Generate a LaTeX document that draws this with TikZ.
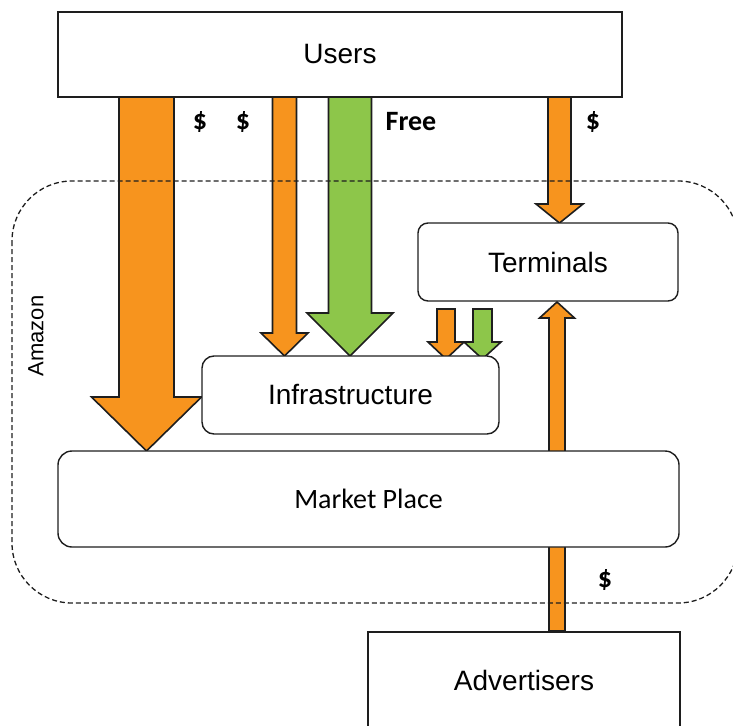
\documentclass[tikz,border=0pt]{standalone}
\usepackage{fontspec}
\setmainfont{Liberation Sans}
\newfontfamily\calib{Carlito}
\definecolor{arrorange}{RGB}{247,148,30}
\definecolor{arrgreen}{RGB}{141,198,74}
\definecolor{ink}{RGB}{30,30,30}
\newcommand\blockarr[7]{% color, x, y start, y tip, shaft half, head half, head length
  \filldraw[fill=#1, draw=ink, line width=1.6pt, line join=miter]
    ({#2-#5},{#3}) -- ({#2-#5},{#4-#7}) -- ({#2-#6},{#4-#7}) -- ({#2},{#4})
    -- ({#2+#6},{#4-#7}) -- ({#2+#5},{#4-#7}) -- ({#2+#5},{#3}) -- cycle;}
\begin{document}
\begin{tikzpicture}[x=1pt,y=-1pt,
  box/.style={draw=ink, fill=white, line width=1.4pt, inner sep=0pt,
    font=\fontsize{28}{33}\selectfont},
  rbox/.style={box, rounded corners=12pt},
  lbl/.style={font=\calib\bfseries\fontsize{28}{33}\selectfont, inner sep=0pt}]
\useasboundingbox (0,0) rectangle (733,725);
\clip (0,0) rectangle (733,725);
% arrows (drawn beneath boxes)
\blockarr{arrorange}{146.5}{97}{451}{27.5}{55}{54}
\blockarr{arrorange}{284.5}{97}{356}{12}{23.5}{23}
\blockarr{arrgreen}{350}{97}{356}{21.5}{43}{43}
\blockarr{arrorange}{559.5}{97}{223}{11.5}{23.5}{19}
\blockarr{arrorange}{446}{309}{359}{9}{18}{17}
\blockarr{arrgreen}{482.5}{309}{359}{9.5}{18.5}{17}
\blockarr{arrorange}{557}{631}{302}{8}{17.5}{-16}
% boxes
\node[box, minimum width=564pt, minimum height=85pt] (users) at (340,54.5) {Users};
\node[rbox, rounded corners=10pt, minimum width=260pt, minimum height=78pt] (terminals) at (548,262) {Terminals};
\node[rbox, minimum width=297pt, minimum height=78pt] (infra) at (350.5,395) {Infrastructure};
\node[rbox, rounded corners=14pt, minimum width=621pt, minimum height=96pt, font=\calib\fontsize{28}{33}\selectfont] (market) at (368.5,499) {Market Place};
\node[box, minimum width=312pt, minimum height=128pt] (advbox) at (524,696) {};
\node[font=\fontsize{28}{33}\selectfont, inner sep=0pt] (adv) at (524,680) {Advertisers};
% labels
\node[lbl] (d1) at (200,122) {\$};
\node[lbl] (d2) at (243,122) {\$};
\node[lbl] (free) at (411,122) {Free};
\node[lbl] (d3) at (593,122) {\$};
\node[lbl] (d4) at (605,580) {\$};
\node[rotate=90, font=\fontsize{22}{26}\selectfont, inner sep=0pt] (amazon) at (36,336) {Amazon};
% Amazon boundary
\draw[ink, line width=1.3pt, dash pattern=on 5pt off 3pt, rounded corners=60pt] (12,181) rectangle (738,603);
\end{tikzpicture}
\end{document}
